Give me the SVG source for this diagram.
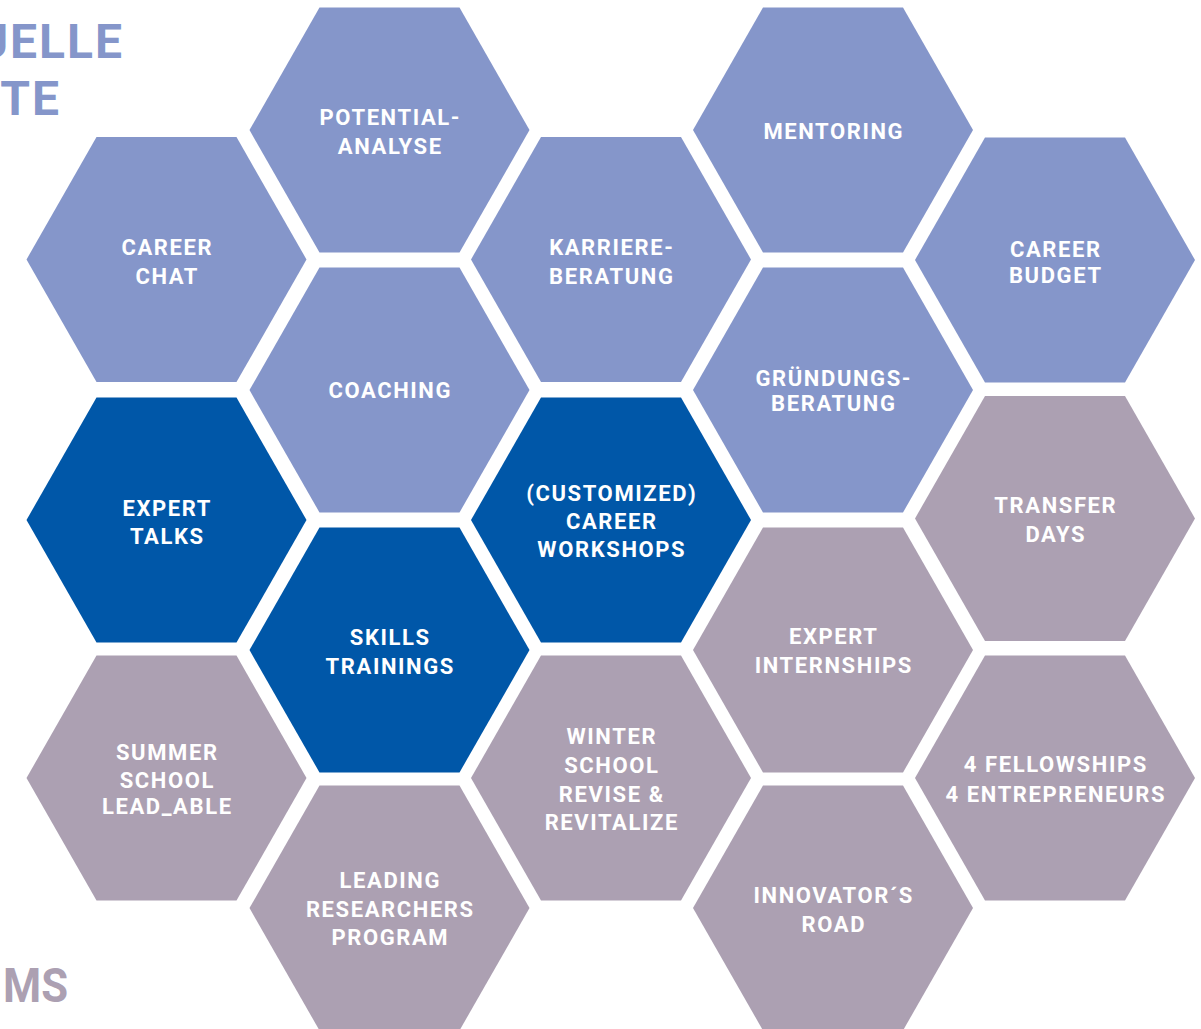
<svg xmlns="http://www.w3.org/2000/svg" xmlns:xlink="http://www.w3.org/1999/xlink" width="1201" height="1029" viewBox="0 0 1201 1029">
<style>
  .light { fill: #8596CA; }
  .dark { fill: #0057A8; }
  .mauve { fill: #ACA0B2; }
  .lbl { font-family: Roboto, "Open Sans", "Liberation Sans", sans-serif; font-weight: 700; font-size: 22px; letter-spacing: 1.6px; fill: #FFFFFF; text-anchor: middle; }
  .title { font-family: Roboto, "Open Sans", "Liberation Sans", sans-serif; font-weight: 700; font-size: 48px; letter-spacing: 2px; }
</style>
<defs>
  <polygon id="hex" points="-140,0 -70,-122.5 70,-122.5 140,0 70,122.5 -70,122.5"/>
</defs>
<rect x="0" y="0" width="1201" height="1029" fill="#FFFFFF"/>

<g id="titles">
  <text class="title" x="124" y="58" text-anchor="end" fill="#8596CA">UELLE</text>
  <text class="title" x="61" y="115" text-anchor="end" fill="#8596CA">TE</text>
  <text class="title" x="3" y="1002" fill="#ACA0B2" textLength="65" lengthAdjust="spacingAndGlyphs" style="letter-spacing:0">MS</text>
</g>

<g id="connectors"></g>

<g id="career-chat">
  <use xlink:href="#hex" href="#hex" x="166.5" y="259.5" class="light"/>
  <text class="lbl" x="167.3" y="255">CAREER</text>
  <text class="lbl" x="167.3" y="284">CHAT</text>
</g>
<g id="expert-talks">
  <use xlink:href="#hex" href="#hex" x="166.5" y="520" class="dark"/>
  <text class="lbl" x="167.3" y="515.5">EXPERT</text>
  <text class="lbl" x="167.3" y="544">TALKS</text>
</g>
<g id="summer-school">
  <use xlink:href="#hex" href="#hex" x="166.5" y="778" class="mauve"/>
  <text class="lbl" x="167.3" y="760">SUMMER</text>
  <text class="lbl" x="167.3" y="787.5">SCHOOL</text>
  <text class="lbl" x="167.3" y="814">LEAD_ABLE</text>
</g>
<g id="potentialanalyse">
  <use xlink:href="#hex" href="#hex" x="389.5" y="130" class="light"/>
  <text class="lbl" x="390.3" y="125">POTENTIAL-</text>
  <text class="lbl" x="390.3" y="154">ANALYSE</text>
</g>
<g id="coaching">
  <use xlink:href="#hex" href="#hex" x="389.5" y="390" class="light"/>
  <text class="lbl" x="390.3" y="398">COACHING</text>
</g>
<g id="skills-trainings">
  <use xlink:href="#hex" href="#hex" x="389.5" y="650" class="dark"/>
  <text class="lbl" x="390.3" y="645">SKILLS</text>
  <text class="lbl" x="390.3" y="674">TRAININGS</text>
</g>
<g id="leading-researchers">
  <use xlink:href="#hex" href="#hex" x="389.5" y="908" class="mauve"/>
  <text class="lbl" x="390.3" y="888">LEADING</text>
  <text class="lbl" x="390.3" y="917">RESEARCHERS</text>
  <text class="lbl" x="390.3" y="945">PROGRAM</text>
</g>
<g id="karriereberatung">
  <use xlink:href="#hex" href="#hex" x="611" y="259.5" class="light"/>
  <text class="lbl" x="611.8" y="255">KARRIERE-</text>
  <text class="lbl" x="611.8" y="284">BERATUNG</text>
</g>
<g id="career-workshops">
  <use xlink:href="#hex" href="#hex" x="611" y="520" class="dark"/>
  <text class="lbl" x="611.8" y="500.5">(CUSTOMIZED)</text>
  <text class="lbl" x="611.8" y="529">CAREER</text>
  <text class="lbl" x="611.8" y="557">WORKSHOPS</text>
</g>
<g id="winter-school">
  <use xlink:href="#hex" href="#hex" x="611" y="778" class="mauve"/>
  <text class="lbl" x="611.8" y="744">WINTER</text>
  <text class="lbl" x="611.8" y="773">SCHOOL</text>
  <text class="lbl" x="611.8" y="802">REVISE &amp;</text>
  <text class="lbl" x="611.8" y="830">REVITALIZE</text>
</g>
<g id="mentoring">
  <use xlink:href="#hex" href="#hex" x="833" y="130" class="light"/>
  <text class="lbl" x="833.8" y="139">MENTORING</text>
</g>
<g id="gruendungsberatung">
  <use xlink:href="#hex" href="#hex" x="833" y="390" class="light"/>
  <text class="lbl" x="833.8" y="386">GRÜNDUNGS-</text>
  <text class="lbl" x="833.8" y="411">BERATUNG</text>
</g>
<g id="expert-internships">
  <use xlink:href="#hex" href="#hex" x="833" y="650" class="mauve"/>
  <text class="lbl" x="833.8" y="644">EXPERT</text>
  <text class="lbl" x="833.8" y="673">INTERNSHIPS</text>
</g>
<g id="innovators-road">
  <use xlink:href="#hex" href="#hex" x="833" y="908" class="mauve"/>
  <text class="lbl" x="833.8" y="903.3">INNOVATOR´S</text>
  <text class="lbl" x="833.8" y="931.7">ROAD</text>
</g>
<g id="career-budget">
  <use xlink:href="#hex" href="#hex" x="1055" y="260" class="light"/>
  <text class="lbl" x="1055.8" y="256.7">CAREER</text>
  <text class="lbl" x="1055.8" y="282.7">BUDGET</text>
</g>
<g id="transfer-days">
  <use xlink:href="#hex" href="#hex" x="1055" y="518.5" class="mauve"/>
  <text class="lbl" x="1055.8" y="513">TRANSFER</text>
  <text class="lbl" x="1055.8" y="542">DAYS</text>
</g>
<g id="fellowships">
  <use xlink:href="#hex" href="#hex" x="1055" y="778" class="mauve"/>
  <text class="lbl" x="1055.8" y="772.3">4 FELLOWSHIPS</text>
  <text class="lbl" x="1055.8" y="801.7">4 ENTREPRENEURS</text>
</g>
</svg>
